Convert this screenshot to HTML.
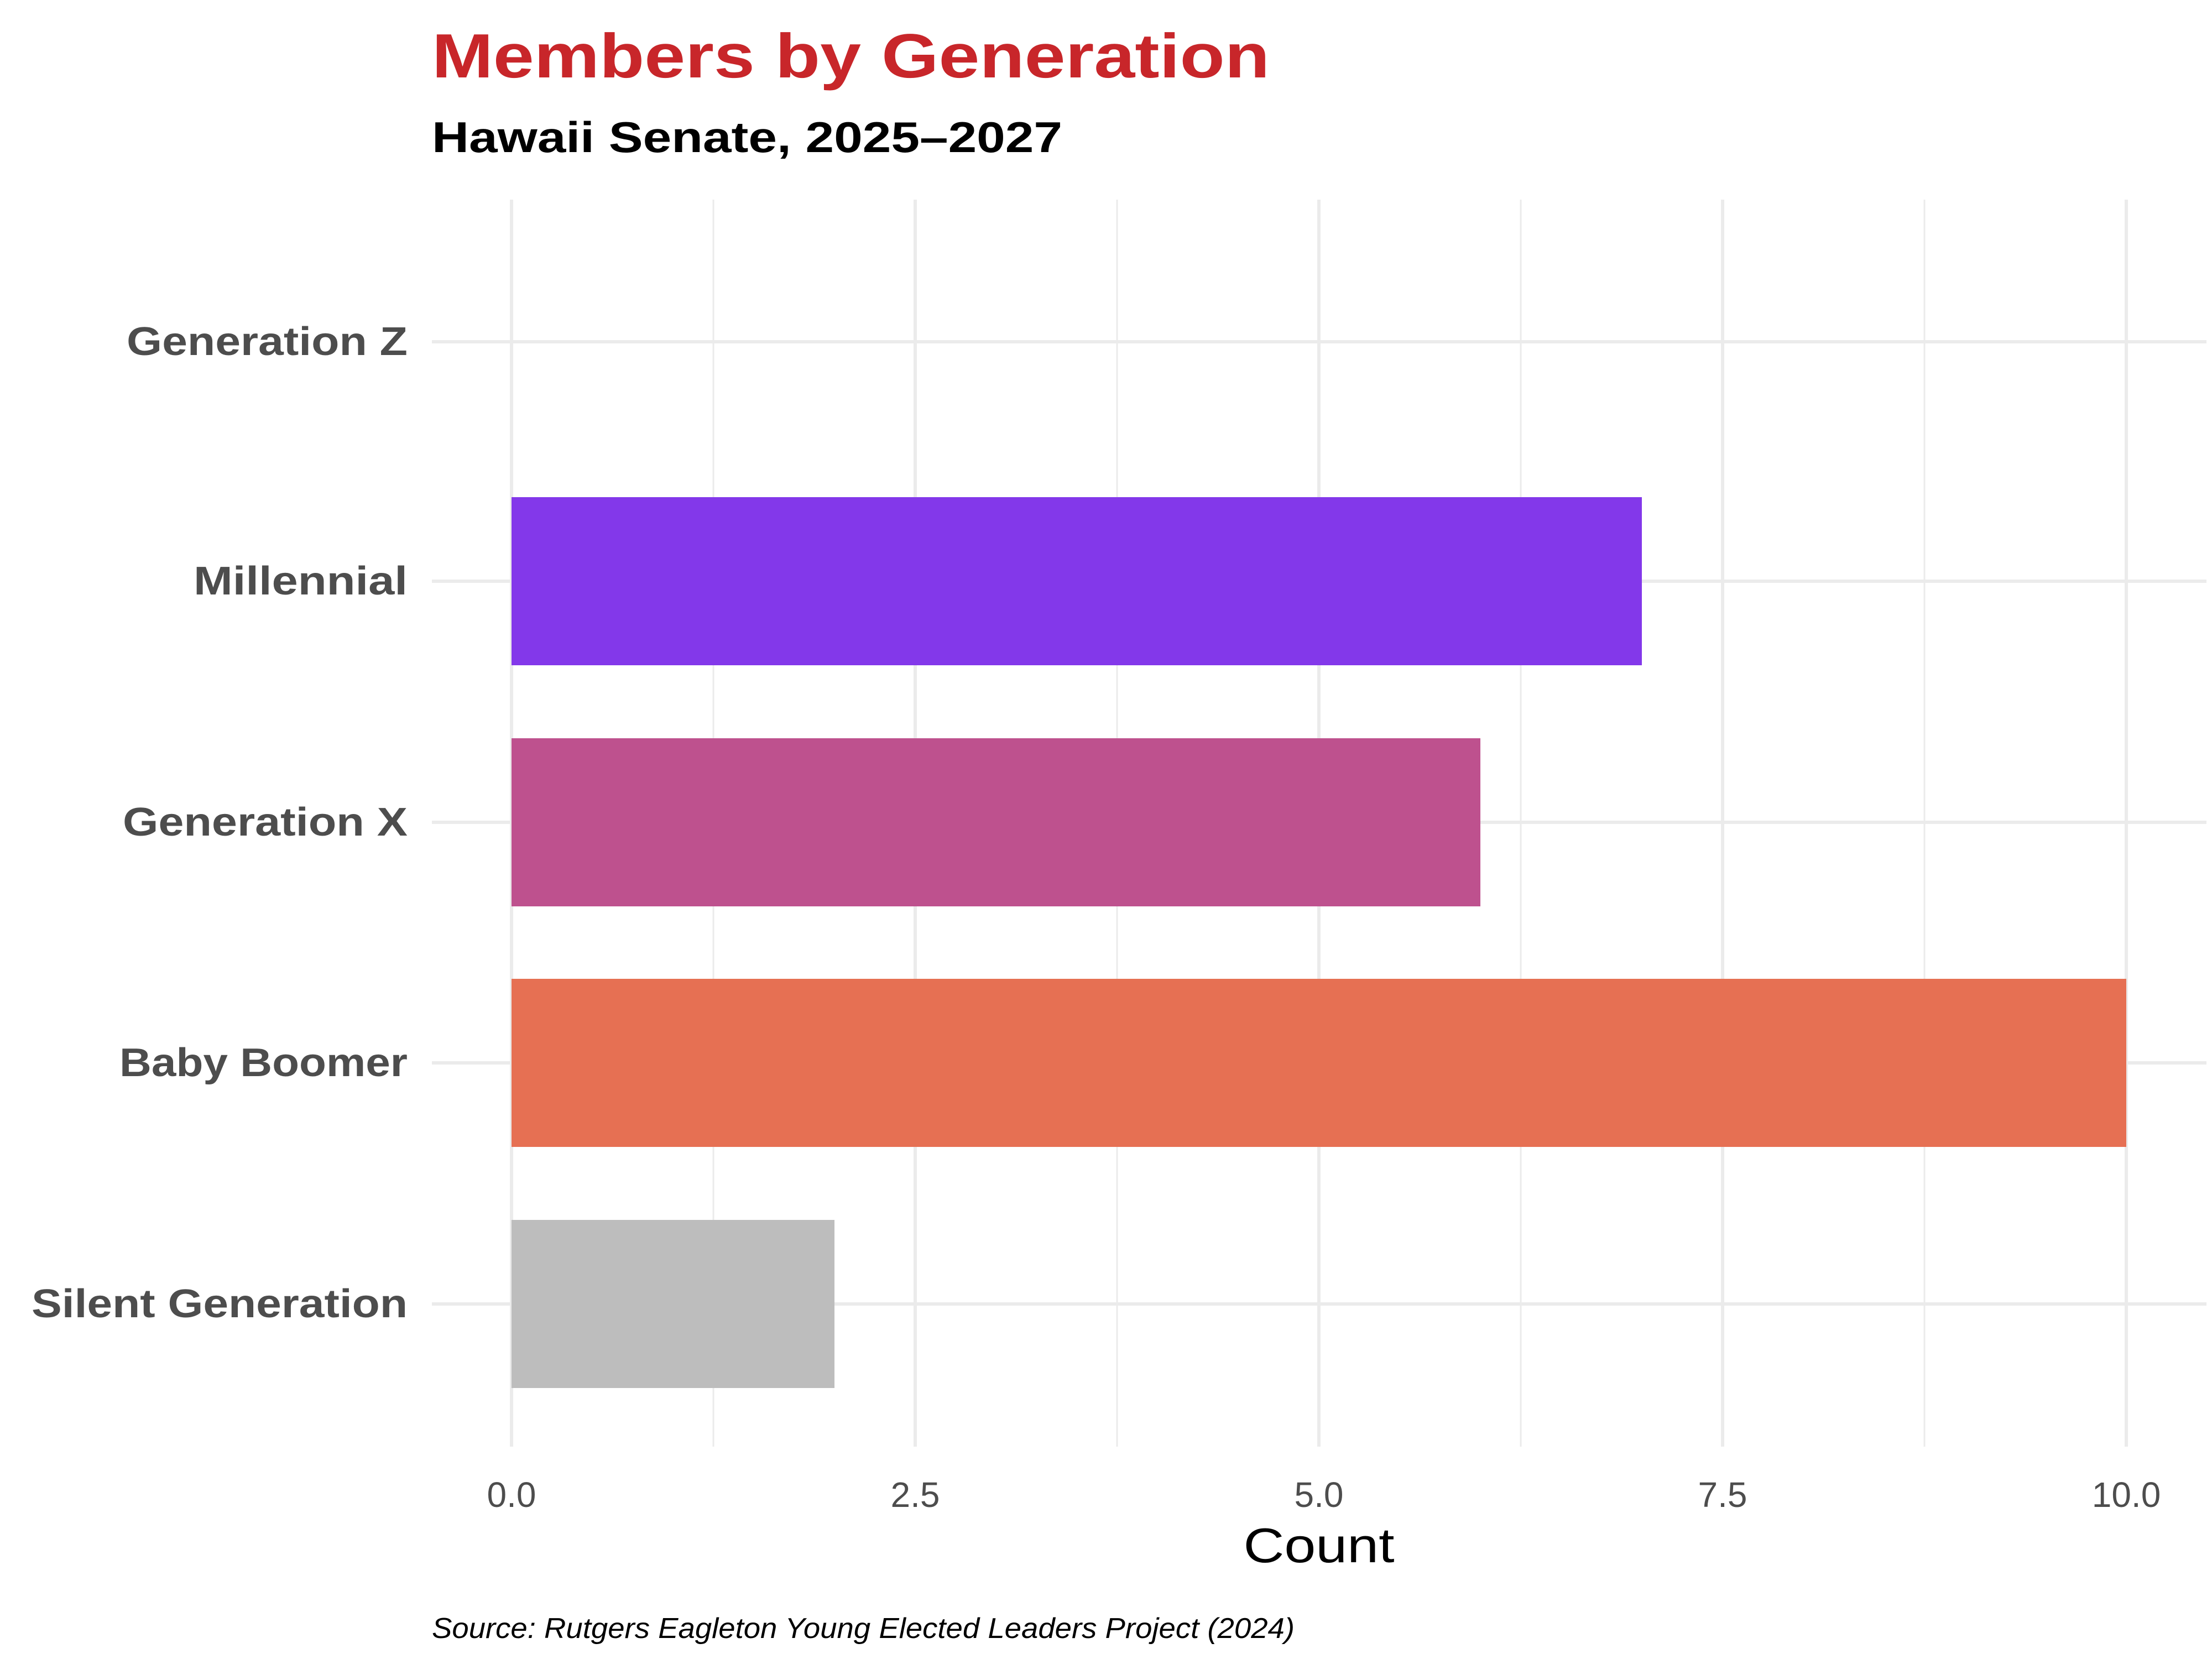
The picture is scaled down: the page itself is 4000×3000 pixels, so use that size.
<!DOCTYPE html>
<html><head><meta charset="utf-8"><style>html,body{margin:0;padding:0;background:#fff}svg{display:block}</style></head>
<body>
<svg width="4000" height="3000" viewBox="0 0 4000 3000" xmlns="http://www.w3.org/2000/svg" font-family="'Liberation Sans', sans-serif">
<rect width="4000" height="3000" fill="#fff"/>
<g stroke="#ebebeb" stroke-width="3">
<line x1="1290" y1="361" x2="1290" y2="2616"/>
<line x1="2020" y1="361" x2="2020" y2="2616"/>
<line x1="2750" y1="361" x2="2750" y2="2616"/>
<line x1="3480" y1="361" x2="3480" y2="2616"/>
</g>
<g stroke="#ebebeb" stroke-width="6">
<line x1="925" y1="361" x2="925" y2="2616"/>
<line x1="1655" y1="361" x2="1655" y2="2616"/>
<line x1="2385" y1="361" x2="2385" y2="2616"/>
<line x1="3115" y1="361" x2="3115" y2="2616"/>
<line x1="3845" y1="361" x2="3845" y2="2616"/>
<line x1="781" y1="618" x2="3990" y2="618"/>
<line x1="781" y1="1051" x2="3990" y2="1051"/>
<line x1="781" y1="1487" x2="3990" y2="1487"/>
<line x1="781" y1="1922" x2="3990" y2="1922"/>
<line x1="781" y1="2358" x2="3990" y2="2358"/>
</g>
<rect x="925" y="899" width="2044" height="304" fill="#8338EA"/>
<rect x="925" y="1335" width="1752" height="304" fill="#BE518E"/>
<rect x="925" y="1770" width="2920" height="304" fill="#E67053"/>
<rect x="925" y="2206" width="584" height="304" fill="#BDBDBD"/>
<text x="781" y="140" font-size="113" font-weight="bold" fill="#C8262A" textLength="1515" lengthAdjust="spacingAndGlyphs">Members by Generation</text>
<text x="781" y="275" font-size="78" font-weight="bold" fill="#000" textLength="1140" lengthAdjust="spacingAndGlyphs">Hawaii Senate, 2025–2027</text>
<g font-size="72" font-weight="bold" fill="#4d4d4d" text-anchor="end">
<text x="737" y="642" textLength="508" lengthAdjust="spacingAndGlyphs">Generation Z</text>
<text x="737" y="1075" textLength="387" lengthAdjust="spacingAndGlyphs">Millennial</text>
<text x="737" y="1511" textLength="515" lengthAdjust="spacingAndGlyphs">Generation X</text>
<text x="737" y="1946" textLength="521" lengthAdjust="spacingAndGlyphs">Baby Boomer</text>
<text x="737" y="2382" textLength="680" lengthAdjust="spacingAndGlyphs">Silent Generation</text>
</g>
<g font-size="64" fill="#4d4d4d" text-anchor="middle">
<text x="925" y="2725">0.0</text>
<text x="1655" y="2725">2.5</text>
<text x="2385" y="2725">5.0</text>
<text x="3115" y="2725">7.5</text>
<text x="3845" y="2725">10.0</text>
</g>
<text x="2385" y="2825" font-size="88" fill="#000" text-anchor="middle" textLength="273" lengthAdjust="spacingAndGlyphs">Count</text>
<text x="781" y="2962" font-size="52" font-style="italic" fill="#000" textLength="1560" lengthAdjust="spacingAndGlyphs">Source: Rutgers Eagleton Young Elected Leaders Project (2024)</text>
</svg>
</body></html>
